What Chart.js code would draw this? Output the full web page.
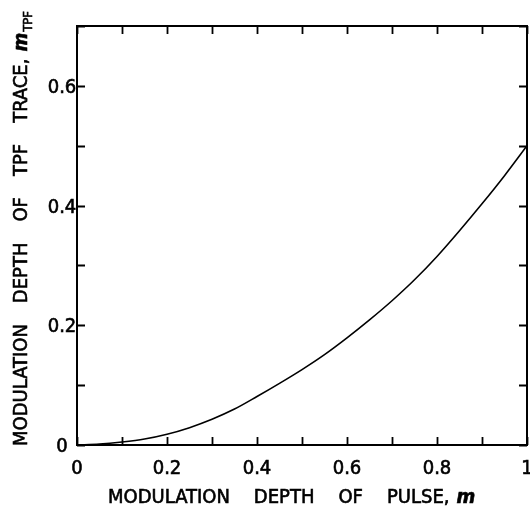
<!DOCTYPE html>
<html>
<head>
<meta charset="utf-8">
<script src="https://cdn.jsdelivr.net/npm/chart.js@4/dist/chart.umd.min.js"></script>
<style>
html,body{margin:0;padding:0;background:#fff;}
canvas{display:block;}
</style>
</head>
<body>
<canvas id="c" width="530" height="510"></canvas>
<script>
// Data
const modulationDepthPulse = [0, 0.05, 0.1, 0.15, 0.2, 0.25, 0.3, 0.35, 0.4, 0.45, 0.5, 0.55, 0.6, 0.65, 0.7, 0.75, 0.8, 0.85, 0.9, 0.95, 1.0];
const modulationDepthTPF   = [0, 0.0015, 0.005, 0.01, 0.018, 0.029, 0.043, 0.060, 0.081, 0.103, 0.126, 0.151, 0.179, 0.209, 0.241, 0.276, 0.315, 0.358, 0.403, 0.450, 0.5];
const xTickValues = [0, 0.1, 0.2, 0.3, 0.4, 0.5, 0.6, 0.7, 0.8, 0.9, 1.0];
const xTickLabels = ['0', '', '0.2', '', '0.4', '', '0.6', '', '0.8', '', '1'];
const yTickValues = [0, 0.1, 0.2, 0.3, 0.4, 0.5, 0.6, 0.7];
const yTickLabels = ['0', '', '0.2', '', '0.4', '', '0.6', ''];
const xTitle = [['MODULATION', 'n'], ['DEPTH', 'n'], ['OF', 'n'], ['PULSE,', 'n'], ['m', 'i']];
const yTitle = [['MODULATION', 'n'], ['DEPTH', 'n'], ['OF', 'n'], ['TPF', 'n'], ['TRACE,', 'n'], ['m', 'i'], ['TPF', 's']];

const FONT = '"DejaVu Sans Condensed", "DejaVu Sans", sans-serif';

const points = modulationDepthPulse.map((x, i) => ({x: x, y: modulationDepthTPF[i]}));

function boldText(ctx, t, x, y) {
  ctx.fillText(t, x, y);
  ctx.strokeText(t, x, y);
}

const framePlugin = {
  id: 'frame',
  afterDraw(chart) {
    const ctx = chart.ctx;
    const xs = chart.scales.x, ys = chart.scales.y;
    const a = chart.chartArea;
    ctx.save();
    ctx.strokeStyle = '#000';
    ctx.fillStyle = '#000';
    ctx.lineWidth = 2;
    ctx.strokeRect(a.left, a.top, a.right - a.left, a.bottom - a.top);
    const tl = 8;
    ctx.lineWidth = 1.8;
    ctx.beginPath();
    xTickValues.forEach(v => {
      const px = Math.round(xs.getPixelForValue(v)) + 0.5;
      ctx.moveTo(px, a.bottom); ctx.lineTo(px, a.bottom - tl);
      ctx.moveTo(px, a.top); ctx.lineTo(px, a.top + tl);
    });
    yTickValues.forEach(v => {
      const py = Math.round(ys.getPixelForValue(v)) + 0.5;
      ctx.moveTo(a.left, py); ctx.lineTo(a.left + tl, py);
      ctx.moveTo(a.right, py); ctx.lineTo(a.right - tl, py);
    });
    ctx.stroke();

    ctx.lineWidth = 0.6;
    ctx.font = '20px ' + FONT;
    ctx.textAlign = 'center';
    ctx.textBaseline = 'alphabetic';
    xTickValues.forEach((v, i) => {
      if (xTickLabels[i]) boldText(ctx, xTickLabels[i], xs.getPixelForValue(v), 474);
    });
    ctx.textBaseline = 'middle';
    yTickValues.forEach((v, i) => {
      if (yTickLabels[i]) boldText(ctx, yTickLabels[i], 62, ys.getPixelForValue(v) + 2);
    });

    // titles
    function drawSegments(segs, gap) {
      let x = 0;
      ctx.textAlign = 'left';
      ctx.textBaseline = 'alphabetic';
      segs.forEach((s, i) => {
        const [t, st] = s;
        let dy = 0;
        if (st === 'i') ctx.font = 'italic bold 20px ' + FONT;
        else if (st === 's') { ctx.font = '13px ' + FONT; dy = 5; }
        else ctx.font = '20px ' + FONT;
        if (i > 0) {
          const prev = segs[i - 1][0];
          if (st === 's') x += 1;
          else if (prev.endsWith(',')) x += 7;
          else x += gap;
        }
        boldText(ctx, t, x, dy);
        x += ctx.measureText(t).width;
      });
      return x;
    }
    ctx.save();
    ctx.translate(108, 503);
    drawSegments(xTitle, 24);
    ctx.restore();

    ctx.save();
    ctx.translate(27, 446);
    ctx.rotate(-Math.PI / 2);
    drawSegments(yTitle, 21);
    ctx.restore();
    ctx.restore();
  }
};

new Chart(document.getElementById('c'), {
  type: 'scatter',
  data: {
    datasets: [{
      data: points,
      showLine: true,
      borderColor: '#000',
      borderWidth: 1.6,
      pointRadius: 0,
      cubicInterpolationMode: 'monotone',
      fill: false
    }]
  },
  options: {
    responsive: false,
    animation: false,
    devicePixelRatio: 1,
    layout: { autoPadding: false, padding: { left: 77, right: 3, top: 26, bottom: 65 } },
    plugins: { legend: { display: false }, tooltip: { enabled: false } },
    scales: {
      x: { type: 'linear', min: 0, max: 1, display: false },
      y: { type: 'linear', min: 0, max: 0.7, display: false }
    }
  },
  plugins: [framePlugin]
});
</script>
</body>
</html>
